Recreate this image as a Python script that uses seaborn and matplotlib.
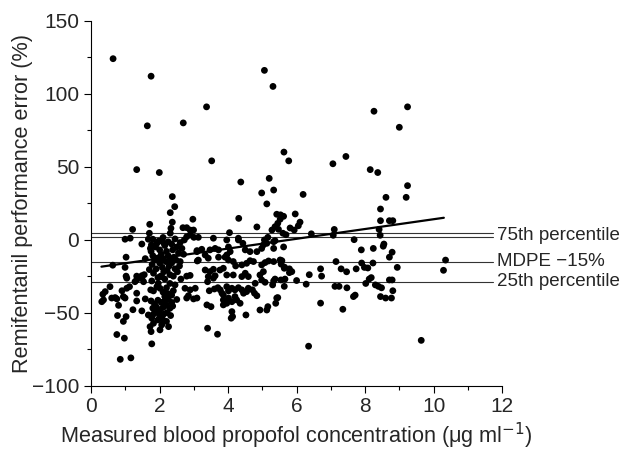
import numpy as np
import pandas as pd
import matplotlib
matplotlib.use("Agg")
import matplotlib.pyplot as plt
import seaborn as sns

# propofol concentration (ug/ml) and remifentanil performance error (%)
conc = [
    # high outliers
    0.64, 1.75, 5.06, 5.31, 3.37, 1.64, 2.69, 5.63, 5.77, 3.52, 1.33, 1.99, 4.37, 5.2, 4.98, 5.33, 2.37,
    8.26, 9.24, 9.0, 7.06, 7.44, 8.15, 8.37, 9.24, 6.19, 8.61, 9.2,
    # right part
    8.45, 8.45, 8.71, 8.81, 6.1, 6.05, 6.43, 7.1, 7.07, 8.41, 8.44, 7.68, 8.55, 8.53, 7.89, 8.24,
    8.79, 8.71, 7.15, 7.9, 8.23, 10.35, 10.29, 7.3, 7.46, 7.74, 7.98, 8.08, 8.94, 6.7, 6.73, 6.37,
    6.28, 8.18, 8.12, 8.71, 8.79, 8.02, 7.12, 7.24, 7.47, 8.3, 8.39, 8.48, 8.81, 7.71, 7.66, 8.45,
    8.6, 8.77, 6.7, 7.35, 9.64, 6.35,
    # middle part
    5.62, 5.96, 5.53, 5.81, 5.93, 5.6, 5.62, 5.57, 5.64, 5.79, 5.79, 6.0, 5.64,
    5.13, 4.31, 4.84, 5.42, 5.52, 5.45, 5.37, 5.28, 5.47, 5.69,
    4.04, 4.3, 4.3, 3.96, 3.57, 3.13, 4.43, 4.5, 4.64, 4.84, 4.98, 5.13, 5.16, 5.06, 5.37, 4.01,
    4.06, 3.96, 3.62, 3.72, 3.47, 3.23, 3.09, 3.13, 3.33, 3.42, 3.72, 3.91, 4.01, 4.15, 4.22, 4.4,
    4.54, 4.64, 4.74, 4.98, 5.08, 5.18, 5.33, 5.52, 5.55, 5.65, 5.86, 3.33, 3.47, 3.57, 3.76, 3.86,
    3.96, 4.15, 4.4, 4.5, 4.59, 4.93, 5.03, 5.37, 5.66, 5.33, 5.33, 5.03, 5.54, 5.42,
    3.04, 3.4, 3.42, 3.57, 3.62, 3.45, 3.6, 3.7, 3.77, 3.82, 3.86, 3.96, 4.01, 4.11, 4.2, 4.3,
    4.4, 4.45, 4.54, 4.59, 4.71, 4.77, 4.84, 4.79, 4.98, 5.08, 5.33, 5.3,
    3.86, 3.96, 3.86, 4.11, 4.25, 4.35, 4.2, 4.01, 3.38, 3.5, 4.11, 4.13, 4.09, 4.52, 4.93, 5.13,
    5.16, 5.39, 5.45, 3.4, 3.69,
    # left part
    2.44, 2.31, 2.37, 1.71, 1.21, 1.7, 0.99, 1.14, 1.67, 1.8, 1.48, 1.73, 1.76, 1.97, 2.06, 2.13,
    2.31, 2.33, 2.68, 2.79, 2.89, 2.99, 2.89, 2.79, 3.0, 2.72, 2.97, 3.09, 3.1, 0.63, 1.02, 0.99,
    1.58, 1.02, 1.33, 1.48, 1.55, 2.6, 2.79, 2.89,
    0.41, 0.34, 0.55, 0.36, 0.6, 0.7, 0.75, 0.94, 0.9, 1.04, 1.12, 0.99, 0.8, 1.33, 1.33, 1.22,
    1.48, 1.58, 0.77, 1.02, 0.94, 0.75, 0.97, 0.85, 1.16, 1.77, 1.75, 1.72, 1.82, 1.77, 2.01, 2.06,
    2.26, 1.92, 1.67, 2.74, 2.89, 2.84, 2.79, 2.99, 3.09, 1.33, 1.48, 1.28, 1.53, 1.77, 1.96, 2.06,
    2.01, 1.82, 1.74, 1.92, 1.04, 0.31,
    # dense cluster around 2 ug/ml
    1.75, 1.8, 1.85, 1.78, 1.9, 1.82, 1.95, 1.88, 2.0, 2.05, 2.1, 2.0, 2.08, 2.12, 2.03, 2.15,
    2.2, 2.25, 2.18, 2.28, 2.22, 2.3, 2.15, 2.35, 2.38, 2.42, 2.35, 2.45, 2.4, 2.5, 2.55, 2.48,
    2.58, 2.52, 2.62, 1.95, 2.25, 2.32, 1.7, 2.6, 2.7, 2.65, 1.92, 2.45, 2.1,
    1.75, 1.85, 1.95, 2.05, 2.15, 2.25, 2.35, 1.8, 1.9, 2.0, 2.1, 2.2, 2.3, 2.38, 1.82, 2.0,
    2.12, 2.22, 2.32, 2.1, 2.2, 1.95, 2.35, 2.25, 2.5, 2.1, 2.2, 2.3, 2.4, 2.45, 2.15,
]
perf_error = [
    124, 112, 116, 105, 91, 78, 80, 60, 54, 54, 48, 46, 39.5, 42, 32, 34, 29.5,
    88, 91, 77, 52, 57, 48, 46, 37, 31, 29, 29,
    21, 13, 13, 13, 12, 9.5, 4, 7, 3, 7, 3, 0, -3, -4.5, -7, -6,
    -8.6, -12, -15, -16, -16, -14, -21, -20, -22, -20, -19, -19.4, -19, -20, -25, -24,
    -30.5, -26, -27, -27.6, -27.6, -30, -32, -32, -33, -31, -32, -33, -35, -38, -39, -39,
    -40, -40, -43.5, -47.7, -69, -73,
    16, 17.6, 17, 8, 6.6, 4.4, -5, -14.4, -19.6, -20, -22.6, -28, -32,
    24.5, 14.6, 8.7, 17.4, 14, 11.2, 8.9, 6.6, 7.1, 3.4,
    4.8, 1, -0.2, -0.2, 1, 1.6, -2.5, -7, -8.2, -8.2, -6, -2.5, 1.6, -0.2, -0.7, -5,
    -8.2, -10.5, -6, -7, -7, -6.6, -8.2, -14, -10.5, -12.7, -12, -12, -14, -15, -18, -17.3,
    -16.2, -14.4, -15, -17.3, -15.7, -14.6, -15, -13.9, -16.8, -18.9, -21.9, -20.8, -21.9, -20.3, -20.8, -19.6,
    -24.2, -24.2, -25.3, -23, -25.3, -24.2, -21.9, -27, -27, -6, -1.4, -3.6, -27.6, -40,
    -33.3, -28.8, -25.3, -26.4, -24.7, -35, -33.8, -32.9, -34.4, -36.7, -37.9, -32.2, -35.1, -33.3, -34.4, -32.9,
    -34.4, -36.7, -35.6, -33.3, -34.4, -36.7, -38.4, -29.9, -27.6, -29.2, -28.3, -31,
    -41.3, -43.6, -44.7, -42.5, -41.3, -43.6, -39, -40, -44.7, -45.9, -49.3, -52.7, -53.8, -51.6, -48.2, -48.2,
    -45.9, -43.6, -39.7, -60.7, -64.8,
    22.6, 18.5, 12, 10.5, 7, 4.4, 0.3, 1, 0.3, 0.3, -3, -6, -3.6, -1, -1, -2.5,
    4.4, 7.8, 8.2, 8.2, 6.6, 6.6, 3.2, 2, 1.6, -0.2, 14, -7.5, -14.6, -17.5, -12, -19,
    -13, -25, -25, -24.7, -24, -15, -25, -24.5,
    -35.6, -37.4, -32.2, -41.3, -40, -39.7, -40.6, -39, -35, -33.3, -32.2, -40, -45, -36.7, -42, -48,
    -48.8, -40.6, -52, -52.7, -56, -65, -67.5, -82, -81, -71.4, -63, -59.6, -57.3, -53.8, -61.8, -58.4,
    -59.6, -49.7, -51.6, -33.3, -34.4, -38.4, -40, -40.6, -40, -27.6, -26.4, -28.8, -28.8, -28.3, -29.9, -25.3,
    -33.3, -35.1, -34.4, -32.2, -26.4, -42.5,
    -8, -11, -14, -17, -20, -23, -26, -5, -7, -10, -13, -16, -19, -22, -25, -4,
    -8, -11, -15, -18, -21, -24, -27, -3, -7, -12, -16, -20, -25, -5, -9, -14,
    -18, -22, -27, -12.5, -1.5, -13.5, -20.5, -2, -10, -6, -2.5, 0.5, 1.5,
    -42, -44, -41.5, -43, -42, -41, -43, -47, -46, -48, -46.5, -45, -47, -45.5, -51, -52,
    -51, -50, -52, -55, -56, -55, -38, -37, -41, -36, -33, -30, -35, -31, -39,
]

# regression line and summary lines
fit_x = [0.3, 10.3]
fit_y = [-18.5, 15]
ref_levels = [1.5, 4.5, -15, -29]
ref_labels = ["75th percentile", "MDPE \u221215%", "25th percentile"]
ref_label_y = [3, -15, -29]

df = pd.DataFrame({"conc": conc, "pe": perf_error})

sns.set_style("ticks")
plt.rcParams["font.family"] = ["Liberation Sans", "DejaVu Sans"]

fig = plt.figure(figsize=(6.42, 4.51), dpi=100)
ax = fig.add_axes([0.142, 0.145, 0.64, 0.809])

for lev in ref_levels:
    ax.plot([0, 11.75], [lev, lev], color="#333333", lw=0.8, clip_on=False, zorder=1)

sns.scatterplot(data=df, x="conc", y="pe", color="black", s=24, edgecolor="none",
                ax=ax, zorder=3)
ax.plot(fit_x, fit_y, color="black", lw=1.6, zorder=4)

for lab, yy in zip(ref_labels, ref_label_y):
    ax.text(11.85, yy, lab, fontsize=13.5, va="center", ha="left", clip_on=False)

ax.set_xlim(0, 12)
ax.set_ylim(-100, 150)
ax.set_xticks(np.arange(0, 13, 2))
ax.set_xticks(np.arange(0, 13, 1), minor=True)
ax.set_yticks(np.arange(-100, 151, 50))
ax.set_yticks(np.arange(-100, 151, 25), minor=True)
ax.tick_params(axis="both", which="major", labelsize=15, length=5, width=0.8, direction="out", color="black")
ax.tick_params(axis="both", which="minor", length=3, width=0.8, direction="out", color="black")
for sp in ["left", "bottom"]:
    ax.spines[sp].set_linewidth(0.8)
    ax.spines[sp].set_color("black")
sns.despine(ax=ax)

ax.set_xlabel("Measured blood propofol concentration (\u03bcg ml$^{-1}$)", fontsize=15.6, labelpad=3)
ax.set_ylabel("Remifentanil performance error (%)", fontsize=15.6, labelpad=-1)

fig.savefig("out.png", dpi=100)
